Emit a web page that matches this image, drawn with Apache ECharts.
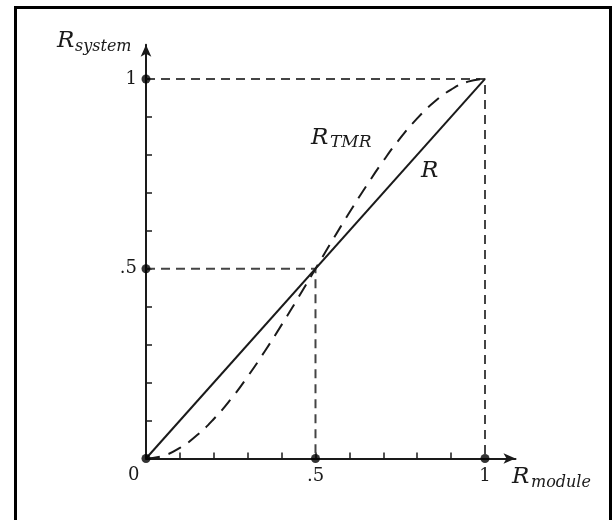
<!DOCTYPE html>
<html>
<head>
<meta charset="utf-8">
<script src="https://cdn.jsdelivr.net/npm/echarts@6/dist/echarts.min.js"></script>
<style>
  html, body { margin: 0; padding: 0; background: #fff; }
  #chart { width: 615px; height: 520px; }
</style>
</head>
<body>
<div id="chart"></div>
<script>
// Module reliability R on the x axis
const moduleR = [0, 0.05, 0.1, 0.15, 0.2, 0.25, 0.3, 0.35, 0.4, 0.45, 0.5,
                 0.55, 0.6, 0.65, 0.7, 0.75, 0.8, 0.85, 0.9, 0.95, 1];
// Simplex system: R_system = R
const simplexR = [0, 1];
// Triple modular redundancy system reliability
const tmrR = [0, 0.007, 0.028, 0.061, 0.104, 0.156, 0.216, 0.282, 0.352, 0.425, 0.5,
              0.575, 0.648, 0.718, 0.784, 0.844, 0.896, 0.939, 0.972, 0.993, 1];
// Guide lines at R = 1 and R = 0.5
const guideOne = [[0, 1], [1, 1], [1, 0]];
const guideHalf = [[0, 0.5], [0.5, 0.5], [0.5, 0]];
// Marked points on the axes
const axisDots = [[0, 0], [0.5, 0], [1, 0], [0, 0.5], [0, 1]];
// Minor ticks and labelled ticks
const minorTicks = [0.1, 0.2, 0.3, 0.4, 0.5, 0.6, 0.7, 0.8, 0.9];
const labelTicks = [0.5, 1];
const tickText = { 0.5: '.5', 1: '1' };

const serif = '"DejaVu Serif", "Liberation Serif", serif';
const ink = '#1a1a1a';

const chart = echarts.init(document.getElementById('chart'), null, { renderer: 'canvas' });

function axisCommon() {
  return {
    type: 'value',
    min: 0,
    max: 1.09,
    splitLine: { show: false },
    axisLine: {
      show: true,
      onZero: false,
      symbol: ['none', 'arrow'],
      symbolSize: [8, 12],
      lineStyle: { color: ink, width: 2 }
    },
    axisTick: {
      show: true,
      inside: true,
      length: 6,
      customValues: minorTicks,
      lineStyle: { color: ink, width: 1.5 }
    },
    axisLabel: {
      show: true,
      customValues: labelTicks,
      formatter: v => tickText[v] || '',
      color: ink,
      fontFamily: serif,
      fontSize: 18
    }
  };
}

const xAxis = axisCommon();
xAxis.axisLabel.margin = 9;
const yAxis = axisCommon();
yAxis.axisLabel.margin = 9;

function label(x, y, text, size, italic) {
  return {
    type: 'text',
    x: x, y: y,
    style: {
      text: text,
      fill: ink,
      font: (italic ? 'italic ' : '') + size + 'px ' + serif,
      textVerticalAlign: 'middle'
    },
    z: 10
  };
}

chart.setOption({
  animation: false,
  backgroundColor: '#fff',
  grid: { left: 146, right: 99.5, top: 44.8, bottom: 61.5 },
  xAxis: xAxis,
  yAxis: yAxis,
  graphic: [
    {
      type: 'rect',
      shape: { x: 15.5, y: 7.5, width: 595, height: 530 },
      style: { fill: 'none', stroke: '#000', lineWidth: 3 },
      silent: true
    },
    label(57, 41, 'R', 23, true),
    label(75, 47, 'system', 16, true),
    label(512, 477, 'R', 23, true),
    label(531, 483, 'module', 16, true),
    label(311, 138, 'R', 23, true),
    label(330, 143, 'TMR', 17, true),
    label(421, 171, 'R', 23, true),
    label(128, 475, '0', 18, false)
  ],
  series: [
    {
      type: 'line',
      data: guideOne,
      symbol: 'none',
      lineStyle: { color: '#444', width: 2, type: [9, 6] },
      z: 1
    },
    {
      type: 'line',
      data: guideHalf,
      symbol: 'none',
      lineStyle: { color: '#444', width: 2, type: [9, 6] },
      z: 1
    },
    {
      type: 'line',
      data: simplexR.map(v => [v, v]),
      symbol: 'none',
      lineStyle: { color: ink, width: 2 },
      z: 3
    },
    {
      type: 'line',
      data: moduleR.map((r, i) => [r, tmrR[i]]),
      symbol: 'none',
      smooth: true,
      lineStyle: { color: ink, width: 2, type: [14, 9] },
      z: 2
    },
    {
      type: 'scatter',
      data: axisDots,
      symbol: 'circle',
      symbolSize: 9,
      itemStyle: { color: '#000' },
      z: 5
    }
  ]
});
</script>
</body>
</html>
